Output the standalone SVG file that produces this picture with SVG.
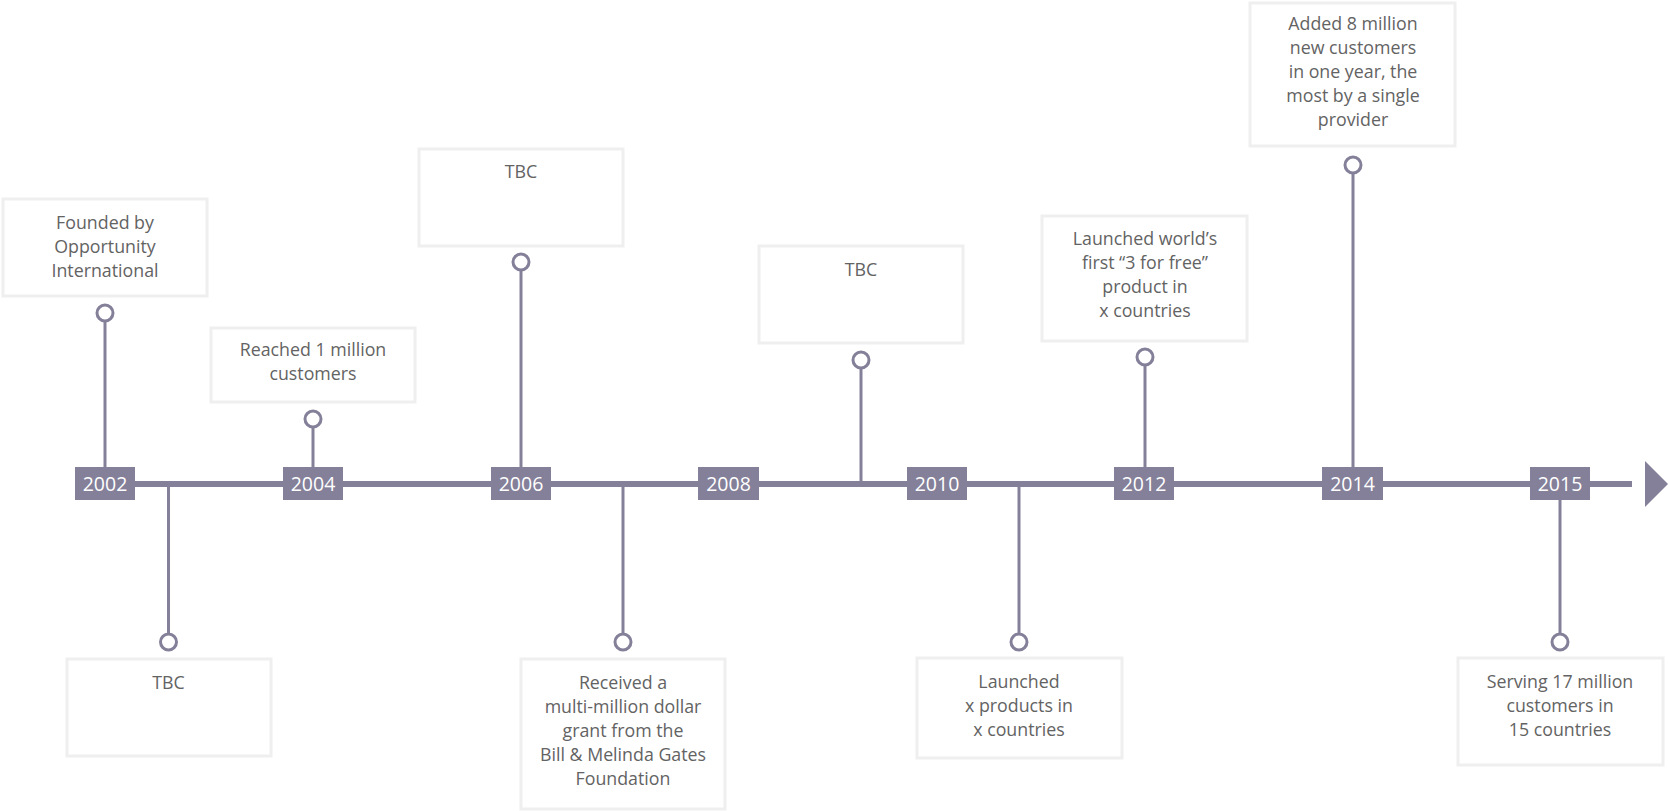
<svg xmlns="http://www.w3.org/2000/svg" width="1669" height="811" viewBox="0 0 1669 811">
<style>
.box{fill:#fff;stroke:#efefef;stroke-width:3}
.t{font-family:"Open Sans","Liberation Sans",sans-serif;font-size:17.8px;fill:#636363;text-anchor:middle}
.yr{fill:#848099}
.yt{font-family:"Open Sans","Liberation Sans",sans-serif;font-size:19.5px;fill:#fff;text-anchor:middle}
.stem{stroke:#848099;stroke-width:3;fill:none}
.dot{fill:#fff;stroke:#848099;stroke-width:3}
</style>
<rect width="1669" height="811" fill="#fff"/>
<g id="connectors">
<line x1="75" y1="484" x2="1632" y2="484" stroke="#848099" stroke-width="6"/>
<polygon points="1645,461 1668,484 1645,507" fill="#848099"/>
<line class="stem" x1="105" y1="321" x2="105" y2="484"/>
<line class="stem" x1="168.5" y1="484" x2="168.5" y2="634"/>
<line class="stem" x1="313" y1="427" x2="313" y2="484"/>
<line class="stem" x1="521" y1="270" x2="521" y2="484"/>
<line class="stem" x1="623" y1="484" x2="623" y2="634"/>
<line class="stem" x1="861" y1="368" x2="861" y2="484"/>
<line class="stem" x1="1019" y1="484" x2="1019" y2="634"/>
<line class="stem" x1="1145" y1="365" x2="1145" y2="484"/>
<line class="stem" x1="1353" y1="173" x2="1353" y2="484"/>
<line class="stem" x1="1560" y1="484" x2="1560" y2="634"/>
<circle class="dot" cx="105" cy="313" r="8"/>
<circle class="dot" cx="168.5" cy="642" r="8"/>
<circle class="dot" cx="313" cy="419" r="8"/>
<circle class="dot" cx="521" cy="262" r="8"/>
<circle class="dot" cx="623" cy="642" r="8"/>
<circle class="dot" cx="861" cy="360" r="8"/>
<circle class="dot" cx="1019" cy="642" r="8"/>
<circle class="dot" cx="1145" cy="357" r="8"/>
<circle class="dot" cx="1353" cy="165" r="8"/>
<circle class="dot" cx="1560" cy="642" r="8"/>
</g>
<g id="y2002"><rect class="yr" x="75" y="467" width="60" height="33"/><text class="yt" x="105" y="491">2002</text></g>
<g id="y2004"><rect class="yr" x="283" y="467" width="60" height="33"/><text class="yt" x="313" y="491">2004</text></g>
<g id="y2006"><rect class="yr" x="491" y="467" width="60" height="33"/><text class="yt" x="521" y="491">2006</text></g>
<g id="y2008"><rect class="yr" x="698" y="467" width="61" height="33"/><text class="yt" x="728.5" y="491">2008</text></g>
<g id="y2010"><rect class="yr" x="907" y="467" width="60" height="33"/><text class="yt" x="937" y="491">2010</text></g>
<g id="y2012"><rect class="yr" x="1114" y="467" width="60" height="33"/><text class="yt" x="1144" y="491">2012</text></g>
<g id="y2014"><rect class="yr" x="1322" y="467" width="61" height="33"/><text class="yt" x="1352.5" y="491">2014</text></g>
<g id="y2015"><rect class="yr" x="1530" y="467" width="60" height="33"/><text class="yt" x="1560" y="491">2015</text></g>
<g id="n2002top"><rect class="box" x="3" y="199" width="204" height="97"/>
<text class="t" x="105" y="229">Founded by</text><text class="t" x="105" y="253">Opportunity</text><text class="t" x="105" y="277">International</text></g>
<g id="n2002bottom"><rect class="box" x="67" y="659" width="204" height="97"/>
<text class="t" x="168.5" y="689">TBC</text></g>
<g id="n2004"><rect class="box" x="211" y="328" width="204" height="74"/>
<text class="t" x="313" y="356">Reached 1 million</text><text class="t" x="313" y="380">customers</text></g>
<g id="n2006top"><rect class="box" x="419" y="149" width="204" height="97"/>
<text class="t" x="521" y="178">TBC</text></g>
<g id="n2006bottom"><rect class="box" x="521" y="659" width="204" height="150"/>
<text class="t" x="623" y="689">Received a</text><text class="t" x="623" y="713">multi-million dollar</text><text class="t" x="623" y="737">grant from the</text><text class="t" x="623" y="761">Bill &amp; Melinda Gates</text><text class="t" x="623" y="785">Foundation</text></g>
<g id="n2008"><rect class="box" x="759" y="246" width="204" height="97"/>
<text class="t" x="861" y="276">TBC</text></g>
<g id="n2010"><rect class="box" x="917" y="658" width="205" height="100"/>
<text class="t" x="1019" y="688">Launched</text><text class="t" x="1019" y="712">x products in</text><text class="t" x="1019" y="736">x countries</text></g>
<g id="n2012"><rect class="box" x="1042" y="216" width="205" height="125"/>
<text class="t" x="1145" y="245">Launched world’s</text><text class="t" x="1145" y="269">first “3 for free”</text><text class="t" x="1145" y="293">product in</text><text class="t" x="1145" y="317">x countries</text></g>
<g id="n2014"><rect class="box" x="1250" y="3" width="205" height="143"/>
<text class="t" x="1353" y="30">Added 8 million</text><text class="t" x="1353" y="54">new customers</text><text class="t" x="1353" y="78">in one year, the</text><text class="t" x="1353" y="102">most by a single</text><text class="t" x="1353" y="126">provider</text></g>
<g id="n2015"><rect class="box" x="1458" y="658" width="205" height="107"/>
<text class="t" x="1560" y="688">Serving 17 million</text><text class="t" x="1560" y="712">customers in</text><text class="t" x="1560" y="736">15 countries</text></g>
</svg>
